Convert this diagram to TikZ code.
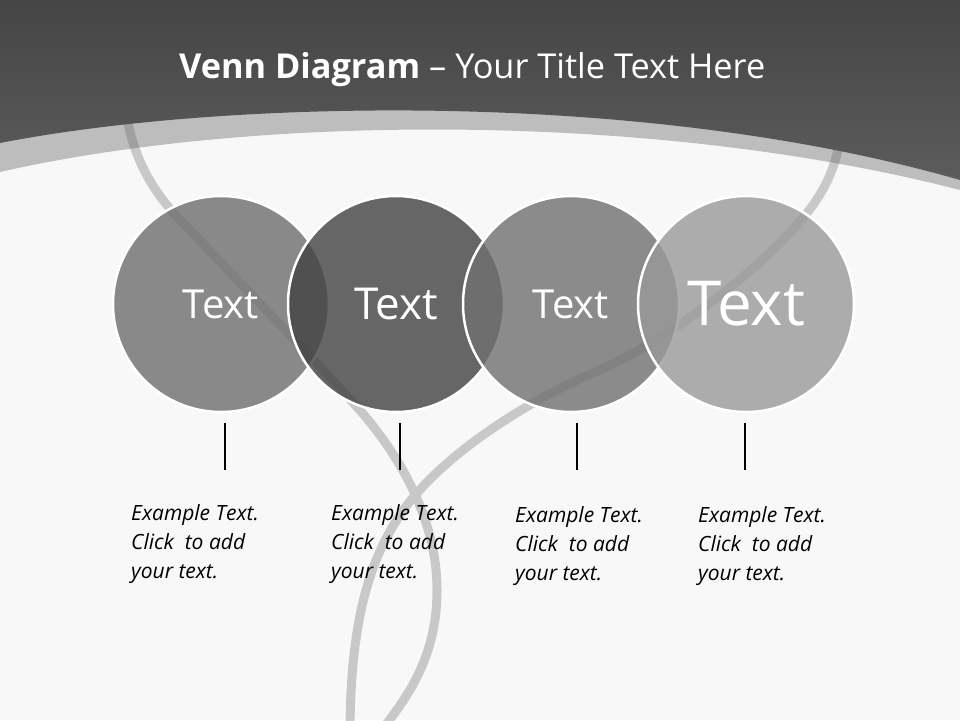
\documentclass[tikz,border=0pt]{standalone}
\usepackage{fontspec}
\setmainfont{Open Sans}
\usetikzlibrary{positioning}

\definecolor{pagebg}{gray}{0.973}
\definecolor{bandgray}{gray}{0.74}
\definecolor{headtop}{gray}{0.27}
\definecolor{headbot}{gray}{0.36}
\definecolor{ribbongray}{gray}{0.39}
\definecolor{circA}{gray}{0.43}
\definecolor{circB}{gray}{0.26}
\definecolor{circC}{gray}{0.44}
\definecolor{circD}{gray}{0.60}

\tikzset{
  venn/.style={circle, minimum size=216, inner sep=0, draw=white,
    line width=2.5, fill opacity=0.8, text opacity=1, text=white},
  ribbon/.style={draw=ribbongray, line width=9},
  stem/.style={line width=2, black},
  note/.style={anchor=base west, align=left, inner sep=0,
    font=\itshape\fontsize{21}{29}\selectfont}
}

\begin{document}
\begin{tikzpicture}[x=1pt,y=-1pt]
  \useasboundingbox (0,0) rectangle (960,720);

  % Page background.
  \fill[pagebg] (0,0) rectangle (960,720);

  % The light band; the header covers all of it but its lower strip.
  \fill[bandgray] (0,0) -- (0,172) .. controls (250,115) and (650,110)
    .. (960,190) -- (960,0) -- cycle;

  % The two ribbons, seen through the band and the circles.
  \begin{scope}[transparency group, opacity=0.32]
    \draw[ribbon] (125,105) .. controls (132,160) and (155,195) .. (185,225)
      .. controls (240,283) and (310,355) .. (357,407)
      .. controls (400,455) and (437,520) .. (437,590)
      .. controls (437,660) and (405,700) .. (378,735);
    \draw[ribbon] (842,125) .. controls (838,165) and (825,190) .. (807,213)
      .. controls (770,260) and (680,335) .. (593,373)
      .. controls (530,400) and (440,455) .. (400,515)
      .. controls (370,560) and (350,620) .. (350,735);
  \end{scope}

  % The header, drawn over the top ends of the ribbons.
  \shade[top color=headtop, bottom color=headbot] (0,0) -- (0,143)
    .. controls (220,100) and (640,88) .. (960,180) -- (960,0) -- cycle;

  % The title.
  \node (title) [anchor=base west, inner sep=0, text=white,
    font=\fontsize{34.3}{40}\selectfont] at (179,78)
    {\textbf{Venn Diagram} -- Your Title Text Here};

  % The four circles, each one over the one on its left.
  \foreach \i/\x/\c/\s in {1/221/circA/40, 2/396/circB/44,
                           3/571/circC/40, 4/746/circD/62}
    \node (circ\i) [venn, fill=\c, font=\fontsize{\s}{\s}\selectfont]
      at (\x,304) {Text};

  % Stems under the circles.
  \foreach \i/\x in {1/225, 2/400, 3/577, 4/745}
  {
    \coordinate (stemtop\i) at (\x,423);
    \coordinate (stembot\i) at (\x,470);
    \draw[stem] (stemtop\i) -- (stembot\i);
  }

  % The notes; a note's base is the base of its last line.
  \foreach \i/\x/\y in {1/131/578, 2/331/578, 3/515/580, 4/698/580}
    \node (note\i) [note] at (\x,\y) {Example Text.\\Click\ \ to add\\your text.};

\end{tikzpicture}
\end{document}
